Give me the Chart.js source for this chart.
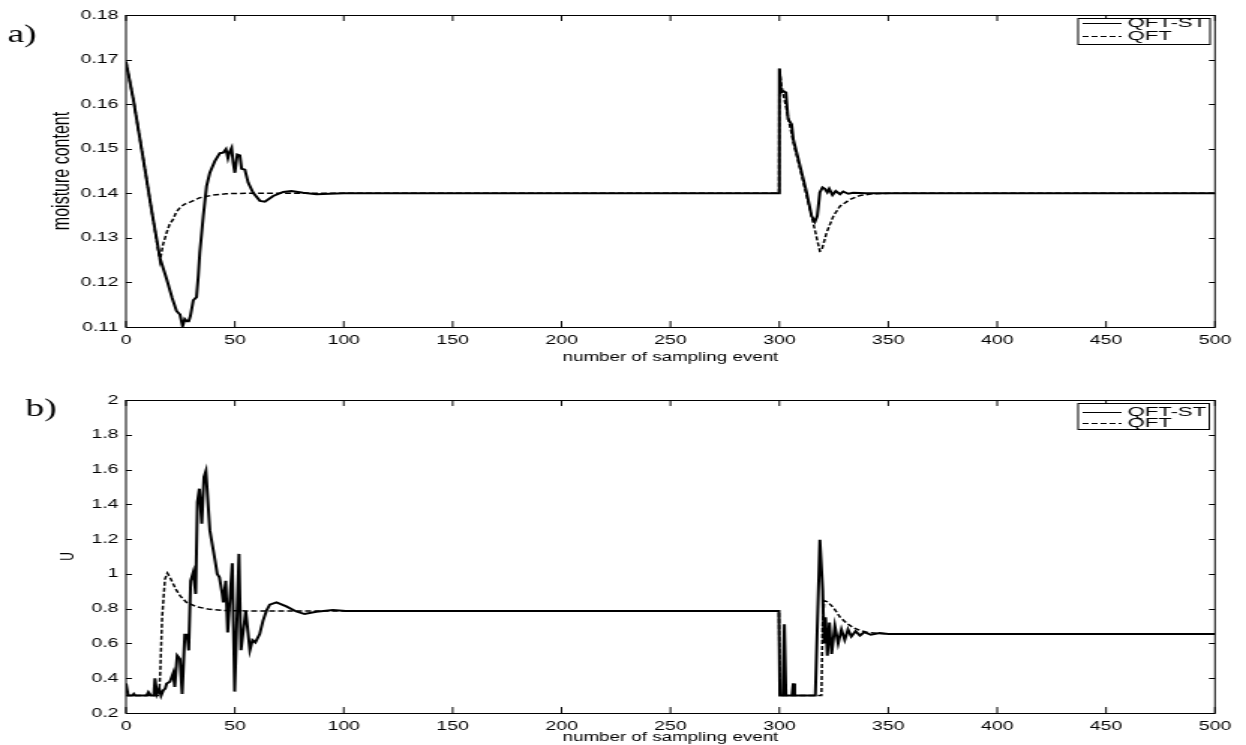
<!DOCTYPE html>
<html>
<head>
<meta charset="utf-8">
<title>QFT-ST x QFT</title>
<script src="https://cdn.jsdelivr.net/npm/chart.js@4.4.1/dist/chart.umd.min.js"></script>
<style>
    html, body { margin: 0; padding: 0; background: #fff; }
    .painel { position: absolute; left: 0; width: 1246px; }
    #painelA { top: 0; height: 372px; }
    #painelB { top: 372px; height: 373px; }
</style>
</head>
<body>
<!-- o canvas é desenhado estreito e esticado na horizontal (figura original é alongada) -->
<div class="painel" id="painelA">
    <canvas id="graficoUmidade" width="831" height="372" style="width:1246px;height:372px"></canvas>
</div>
<div class="painel" id="painelB">
    <canvas id="graficoControle" width="831" height="373" style="width:1246px;height:373px"></canvas>
</div>
<script>
// =================================================================
// DADOS - pares [amostra, valor] de cada série
// =================================================================

const seriesLabels = ['QFT-ST', 'QFT'];
const panelTags = ['a)', 'b)'];
const xTitle = 'number of sampling event';
const yTitles = ['moisture content', 'U'];

// a) teor de umidade
const moistureQftSt = [
    [0, 0.1695], [3.4, 0.161], [8, 0.1475], [12, 0.1355], [15.6, 0.1255],
    [18.7, 0.1207], [21.2, 0.1165], [23.2, 0.1136], [24, 0.1132], [24.8, 0.1128],
    [26, 0.1102], [27, 0.1118], [28, 0.1113], [28.8, 0.1113], [29.6, 0.1125],
    [30.9, 0.116], [32.4, 0.1167], [33.2, 0.1215], [33.9, 0.1267], [35.5, 0.1349],
    [37, 0.1416], [38.5, 0.1446], [40.8, 0.1472], [43.1, 0.149], [44.6, 0.1491],
    [45.9, 0.1499], [46.8, 0.1479], [47.5, 0.1492], [48.5, 0.1502], [49.2, 0.147],
    [50, 0.1446], [51.1, 0.1487], [52.3, 0.1485], [53.1, 0.1455], [54.6, 0.1453],
    [56.1, 0.1424], [58.4, 0.1401], [61.5, 0.1383], [63.8, 0.1381], [67.6, 0.1394],
    [72.2, 0.1403], [76, 0.1405], [81.3, 0.1401], [87.5, 0.1398], [93.6, 0.1399],
    [100, 0.14], [299.8, 0.14], [300, 0.168], [300.8, 0.1626], [302, 0.1629],
    [303, 0.1626], [304, 0.1566], [305.6, 0.1555], [306.4, 0.1521], [309.5, 0.1461],
    [312.5, 0.1402], [314.8, 0.1349], [316.3, 0.1336], [317.4, 0.1349], [318.6, 0.1402],
    [319.8, 0.1413], [320.9, 0.141], [322, 0.1402], [322.9, 0.141], [324.4, 0.1396],
    [325.9, 0.1405], [327.8, 0.1398], [329.3, 0.1404], [331.6, 0.1399], [333.9, 0.1401],
    [340, 0.14], [500, 0.14]
];
const moistureQft = [
    [0, 0.1695], [3.4, 0.161], [8, 0.1475], [12, 0.1355], [15.6, 0.1248],
    [17, 0.1285], [18.7, 0.1312], [20, 0.133], [21.7, 0.1342], [23, 0.1357],
    [24.8, 0.1368], [27, 0.1376], [29.4, 0.138], [33.9, 0.139], [40, 0.1396],
    [46, 0.1399], [55, 0.14], [299.8, 0.14], [300, 0.168], [301, 0.164],
    [303.3, 0.1588], [306.4, 0.1514], [309.5, 0.1454], [312.5, 0.1395], [315.5, 0.1334],
    [318.6, 0.127], [319.4, 0.1272], [321.7, 0.1312], [324.8, 0.1349], [327.8, 0.1371],
    [332.4, 0.1386], [337, 0.1395], [343, 0.1399], [352, 0.14], [500, 0.14]
];

// b) sinal de controle U
const controlQftSt = [
    [0, 0.37], [1, 0.3], [3, 0.3], [3.6, 0.31], [4.2, 0.3],
    [9.5, 0.3], [10.3, 0.32], [11.5, 0.3], [12.8, 0.3], [13.3, 0.4],
    [14.2, 0.31], [15.3, 0.34], [16.1, 0.3], [17.1, 0.33], [18, 0.34],
    [18.7, 0.37], [20.2, 0.38], [21.7, 0.43], [22.4, 0.35], [23.5, 0.53],
    [24.8, 0.51], [25.8, 0.31], [27, 0.65], [28.1, 0.65], [28.8, 0.56],
    [29.7, 0.96], [30.9, 1.01], [32, 0.885], [32.8, 1.413], [33.7, 1.49],
    [34.8, 1.289], [35.8, 1.557], [36.7, 1.592], [38.5, 1.25], [40.9, 1.077],
    [41.9, 1.0], [42.9, 0.98], [44.2, 0.885], [44.7, 0.836], [45.8, 0.96],
    [46.7, 0.663], [48.8, 1.061], [49.9, 0.323], [51.9, 1.115], [52.8, 0.561],
    [55, 0.788], [56.9, 0.561], [58.1, 0.619], [59.4, 0.606], [61.4, 0.654],
    [62.9, 0.73], [64.5, 0.788], [66, 0.823], [69.1, 0.836], [73.6, 0.813],
    [78.2, 0.784], [82, 0.769], [87.4, 0.782], [95, 0.792], [101, 0.787],
    [299.8, 0.787], [300.2, 0.3], [301.6, 0.3], [302.3, 0.71], [303, 0.3],
    [305.8, 0.3], [306.4, 0.37], [307, 0.3], [316.5, 0.3], [318.6, 1.196],
    [319.9, 0.904], [320.5, 0.6], [321.2, 0.75], [322, 0.53], [323, 0.72],
    [324, 0.54], [325.5, 0.7], [327, 0.6], [328.5, 0.68], [330, 0.62],
    [331.5, 0.68], [333, 0.64], [335, 0.67], [337, 0.645], [339, 0.665],
    [342, 0.65], [346, 0.66], [350, 0.655], [500, 0.655]
];
const controlQft = [
    [0, 0.3], [15.2, 0.3], [15.8, 0.45], [16.6, 0.75], [17.9, 0.97],
    [19, 1.005], [20.2, 0.98], [21.7, 0.942], [23.2, 0.905], [24.8, 0.875],
    [27.8, 0.836], [32.4, 0.811], [38.5, 0.796], [46.2, 0.789], [55, 0.787],
    [299.8, 0.787], [300.2, 0.3], [319.3, 0.3], [319.8, 0.7], [320.6, 0.846],
    [322, 0.84], [324.8, 0.807], [327.9, 0.75], [331, 0.715], [334, 0.69],
    [337, 0.675], [340, 0.665], [345, 0.658], [352, 0.655], [500, 0.655]
];

// =================================================================
// ESTILO
// =================================================================

const FONTE = '"Liberation Sans", Arial, Helvetica, sans-serif';
const FONTE_SERIF = '"Liberation Serif", "Times New Roman", serif';

function toPoints(pares) {
    return pares.map(p => ({ x: p[0], y: p[1] }));
}

/**
 * Moldura estilo MATLAB: caixa fechada, ticks para dentro,
 * legenda com borda e rótulo do painel (a, b)
 */
const molduraMatlab = {
    id: 'molduraMatlab',
    afterDraw(chart, args, opts) {
        const { ctx, chartArea: a, scales } = chart;
        ctx.save();
        ctx.setLineDash([]);
        ctx.strokeStyle = '#000';
        ctx.lineWidth = 1;

        ctx.strokeRect(a.left, a.top + 0.5, a.right - a.left, a.bottom - a.top);

        ctx.beginPath();
        scales.x.ticks.forEach(t => {
            const px = scales.x.getPixelForValue(t.value);
            ctx.moveTo(px, a.bottom); ctx.lineTo(px, a.bottom - 6);
            ctx.moveTo(px, a.top); ctx.lineTo(px, a.top + 6);
        });
        scales.y.ticks.forEach(t => {
            const py = Math.round(scales.y.getPixelForValue(t.value)) + 0.5;
            ctx.moveTo(a.left, py); ctx.lineTo(a.left + 4, py);
            ctx.moveTo(a.right, py); ctx.lineTo(a.right - 4, py);
        });
        ctx.stroke();

        // legenda
        const lg = opts.legend;
        ctx.fillStyle = '#fff';
        ctx.fillRect(lg.left, lg.top, lg.right - lg.left, lg.bottom - lg.top);
        ctx.strokeRect(lg.left, lg.top + 0.5, lg.right - lg.left, lg.bottom - lg.top);
        ctx.font = '12px ' + FONTE;
        ctx.textBaseline = 'middle';
        ctx.fillStyle = '#000';
        chart.data.datasets.forEach((ds, i) => {
            const y = lg.rows[i] + 0.5;
            ctx.save();
            ctx.lineWidth = 1;
            ctx.setLineDash(ds.borderDash || []);
            ctx.beginPath();
            ctx.moveTo(lg.left + 3, y);
            ctx.lineTo(lg.left + 29, y);
            ctx.stroke();
            ctx.restore();
            ctx.save();
            ctx.translate(lg.left + 33, y);
            ctx.scale(1.23, 1);
            ctx.fillText(ds.label, 0, 0);
            ctx.restore();
        });

        // rótulo do painel
        ctx.font = '25px ' + FONTE_SERIF;
        ctx.textBaseline = 'alphabetic';
        ctx.fillText(opts.tag.text, opts.tag.x, opts.tag.y);
        ctx.restore();
    }
};

/**
 * Monta um dos dois painéis
 */
function criarGrafico(canvasId, cfg) {
    const ctx = document.getElementById(canvasId).getContext('2d');
    return new Chart(ctx, {
        type: 'scatter',
        data: {
            datasets: [
                {
                    label: seriesLabels[0],
                    data: toPoints(cfg.st),
                    showLine: true,
                    borderColor: '#000',
                    borderWidth: 2,
                    pointRadius: 0,
                    tension: 0
                },
                {
                    label: seriesLabels[1],
                    data: toPoints(cfg.qft),
                    showLine: true,
                    borderColor: '#000',
                    borderWidth: 1.5,
                    borderDash: [4, 2],
                    pointRadius: 0,
                    tension: 0
                }
            ]
        },
        options: {
            responsive: false,
            devicePixelRatio: 1,
            animation: false,
            events: [],
            layout: { padding: { top: cfg.top, right: 20.7, left: 0, bottom: 0 } },
            scales: {
                x: {
                    type: 'linear',
                    min: 0,
                    max: 500,
                    grid: { display: false, drawTicks: false },
                    border: { display: false },
                    ticks: {
                        stepSize: 50,
                        padding: 6,
                        maxRotation: 0,
                        autoSkip: false,
                        color: '#000',
                        font: { family: FONTE, size: 13 }
                    },
                    title: {
                        display: true,
                        text: xTitle,
                        color: '#000',
                        font: { family: FONTE, size: 12.5 },
                        padding: { top: 0, bottom: cfg.xTitlePad }
                    },
                    afterFit(scale) { scale.height = cfg.xHeight; }
                },
                y: {
                    min: cfg.yMin,
                    max: cfg.yMax,
                    grid: { display: false, drawTicks: false },
                    border: { display: false },
                    ticks: {
                        stepSize: cfg.yStep,
                        padding: 5,
                        color: '#000',
                        font: { family: FONTE, size: 13 },
                        callback: cfg.yFormat
                    },
                    title: {
                        display: true,
                        text: cfg.yTitle,
                        color: '#000',
                        font: { family: FONTE, size: cfg.yTitleSize },
                        padding: { top: cfg.yTitlePad, bottom: 0 }
                    },
                    afterFit(scale) { scale.width = 84; }
                }
            },
            plugins: {
                legend: { display: false },
                tooltip: { enabled: false },
                molduraMatlab: {
                    legend: cfg.legend,
                    tag: cfg.tag
                }
            }
        },
        plugins: [molduraMatlab]
    });
}

const graficoUmidade = criarGrafico('graficoUmidade', {
    st: moistureQftSt,
    qft: moistureQft,
    top: 15,
    xHeight: 45,
    xTitlePad: 7,
    yMin: 0.11,
    yMax: 0.18,
    yStep: 0.01,
    yFormat: v => v.toFixed(2),
    yTitle: yTitles[0],
    yTitleSize: 16,
    yTitlePad: 32,
    legend: { left: 719, top: 18, right: 807, bottom: 44, rows: [23, 36] },
    tag: { text: panelTags[0], x: 5, y: 42 }
});

const graficoControle = criarGrafico('graficoControle', {
    st: controlQftSt,
    qft: controlQft,
    top: 28,
    xHeight: 32,
    xTitlePad: 0,
    yMin: 0.2,
    yMax: 2,
    yStep: 0.2,
    yFormat: v => String(Number(v.toFixed(1))),
    yTitle: yTitles[1],
    yTitleSize: 12,
    yTitlePad: 38,
    legend: { left: 719, top: 31, right: 806.5, bottom: 57, rows: [40, 51] },
    tag: { text: panelTags[1], x: 17, y: 44 }
});
</script>
</body>
</html>
